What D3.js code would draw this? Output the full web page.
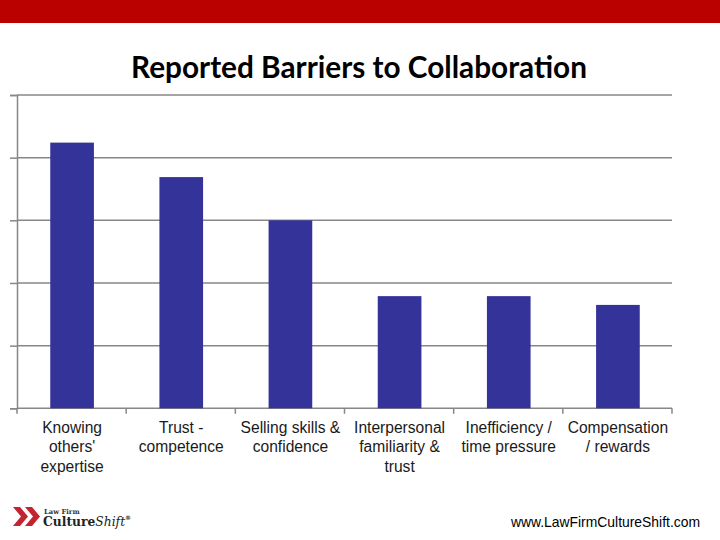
<!DOCTYPE html>
<html><head><meta charset="utf-8">
<script src="https://cdn.jsdelivr.net/npm/d3@7"></script>
<style>body{margin:0;background:#fff}svg{display:block}</style>
</head><body>
<script>
const title = "Reported Barriers to Collaboration";
const categories = [
  ["Knowing","others'","expertise"],
  ["Trust -","competence"],
  ["Selling skills &","confidence"],
  ["Interpersonal","familiarity &","trust"],
  ["Inefficiency /","time pressure"],
  ["Compensation","/ rewards"]
];
const values = [42.4, 36.9, 30.0, 17.9, 17.9, 16.5];
const yTicks = [0, 10, 20, 30, 40, 50];
const footerUrl = "www.LawFirmCultureShift.com";

(function () {
const W = 720, H = 540;
const svg = d3.select("body").append("svg").attr("width", W).attr("height", H);
svg.append("rect").attr("width", W).attr("height", H).attr("fill", "#fff");
svg.append("rect").attr("x", 0).attr("y", 0).attr("width", W).attr("height", 23).attr("fill", "#BB0000");

const t = svg.append("text").attr("x", 359).attr("y", 78).attr("text-anchor", "middle")
  .attr("font-family", "Lato, 'Open Sans', sans-serif").attr("font-weight", "bold")
  .attr("font-size", 26).attr("fill", "#000").text(title);
const tw = t.node().getComputedTextLength();
t.attr("font-size", 26 * 456 / tw);

const pLeft = 17, pRight = 672, pTop = 95, pBottom = 408.3;
const x = d3.scaleBand().domain(d3.range(categories.length)).range([pLeft, pRight])
  .paddingInner(0.6).paddingOuter(0.3);
const y = d3.scaleLinear().domain([0, 50]).range([pBottom, pTop]);

const gridColor = "#878787";
const yAxis = svg.append("g").attr("transform", `translate(${pLeft},0)`)
  .call(d3.axisLeft(y).tickValues(yTicks).tickSize(7).tickFormat(""));
yAxis.select(".domain").attr("stroke", gridColor).attr("stroke-width", 1.5);
yAxis.selectAll(".tick line").attr("stroke", gridColor).attr("stroke-width", 1.5);
svg.append("g").selectAll("line").data(yTicks).join("line")
  .attr("x1", pLeft).attr("x2", pRight)
  .attr("y1", d => y(d)).attr("y2", d => y(d))
  .attr("stroke", gridColor).attr("stroke-width", 1.5);

const step = x.step();
const bounds = d3.range(categories.length + 1).map(i => pLeft + i * step);
svg.append("g").selectAll("line").data(bounds).join("line")
  .attr("x1", d => d).attr("x2", d => d)
  .attr("y1", pBottom).attr("y2", pBottom + 5.5)
  .attr("stroke", gridColor).attr("stroke-width", 1.5);

svg.append("g").selectAll("rect").data(values).join("rect")
  .attr("x", (d, i) => x(i) + 0.5).attr("width", x.bandwidth())
  .attr("y", d => y(d)).attr("height", d => pBottom - y(d))
  .attr("fill", "#333399");

const lab = svg.append("g").attr("font-family", "'Liberation Sans', Arial, sans-serif")
  .attr("font-size", 15.6).attr("fill", "#1a1a1a").attr("text-anchor", "middle");
categories.forEach((lines, i) => {
  const cx = x(i) + x.bandwidth() / 2 + 0.5;
  const tx = lab.append("text").attr("x", cx).attr("y", 433);
  lines.forEach((ln, j) => tx.append("tspan").attr("x", cx)
    .attr("y", 433 + j * 19.4).text(ln));
});

svg.append("text").attr("x", 700).attr("y", 527).attr("text-anchor", "end")
  .attr("font-family", "'Liberation Sans', Arial, sans-serif").attr("font-size", 13.9)
  .attr("fill", "#000").text(footerUrl);

const logo = svg.append("g");
const red = "#C42330";
logo.append("path").attr("d", "M13,507 L20,507 L28,516.5 L20,526 L13,526 L21,516.5 Z").attr("fill", red);
logo.append("path").attr("d", "M25,507 L32,507 L40,516.5 L32,526 L25,526 L33,516.5 Z").attr("fill", red);
logo.append("text").attr("x", 44).attr("y", 513.5).attr("font-family", "'DejaVu Serif', serif")
  .attr("font-weight", "bold").attr("font-size", 6.8).attr("fill", "#333").text("Law Firm");
const lt = logo.append("text").attr("x", 43).attr("y", 526).attr("font-family", "'DejaVu Serif', serif")
  .attr("font-weight", "bold").attr("font-size", 12.3).attr("fill", "#222");
lt.append("tspan").text("Culture");
lt.append("tspan").attr("font-style", "italic").attr("font-weight", "normal").text("Shift");
lt.append("tspan").attr("font-size", 6).attr("dy", -6).text("®");
})();
</script>
</body></html>
